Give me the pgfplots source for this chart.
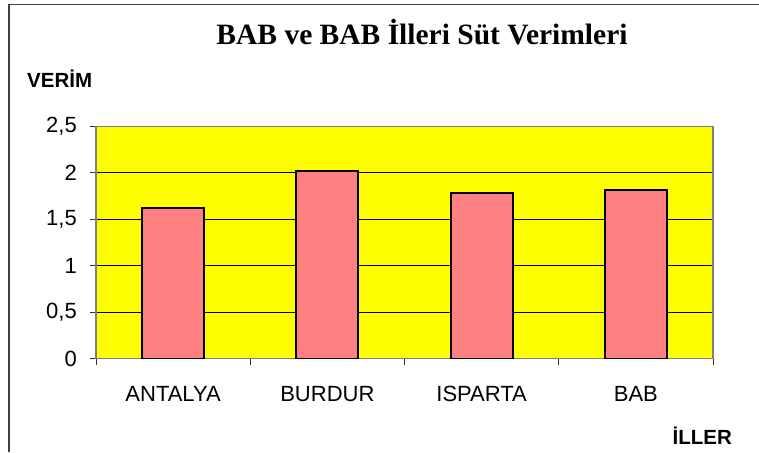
\documentclass[border=0pt]{standalone}
\usepackage{pgfplots}
\pgfplotsset{compat=1.18}
\usepackage{fontspec}
\setmainfont{Liberation Sans}
\newfontfamily\serifbold{Liberation Serif}
\definecolor{plotyellow}{RGB}{255,255,0}
\definecolor{barpink}{RGB}{255,128,128}
\definecolor{framegray}{RGB}{128,128,128}
\begin{document}
\begin{tikzpicture}[x=1pt,y=1pt]
\useasboundingbox (0,0) rectangle (759,452);
\draw[line width=1.5pt, black!75] (9,0) -- (9,447.5) -- (759,447.5);
\begin{axis}[
  at={(96pt,93.3pt)}, anchor=south west,
  scale only axis,
  width=617pt, height=232.4pt,
  xmin=0, xmax=4, ymin=0, ymax=2.5,
  axis background/.style={fill=plotyellow},
  axis line style={draw=framegray, line width=1.2pt},
  ytick={0,0.5,1,1.5,2,2.5},
  yticklabels={0,{0,5},1,{1,5},2,{2,5}},
  xtick={0.5,1.5,2.5,3.5},
  xticklabels={ANTALYA,BURDUR,ISPARTA,BAB},
  minor xtick={0,1,2,3,4},
  tick align=outside,
  tick pos=left,
  major tick length=6pt,
  minor tick length=6pt,
  major x tick style={draw=none},
  minor x tick style={black!80, line width=0.8pt},
  major y tick style={black!80, line width=0.8pt},
  ymajorgrids,
  major grid style={black, line width=0.8pt},
  ticklabel style={font=\fontsize{22}{22}\selectfont, inner sep=0pt},
  xticklabel style={anchor=base, yshift=-37pt},
  yticklabel style={anchor=east, xshift=-13pt},
  /pgf/number format/assume math mode=true,
]
\addplot[ybar, bar width=62pt, bar shift=0pt, fill=barpink, draw=black, line width=2pt]
  coordinates {(0.5,1.626) (1.5,2.021) (2.5,1.784) (3.5,1.812)};
\end{axis}
\node[anchor=base, inner sep=0pt] at (422,407) {\serifbold\bfseries\fontsize{29.5}{29.5}\selectfont BAB ve BAB İlleri Süt Verimleri};
\node[anchor=base west, inner sep=0pt] at (27,364.7) {\bfseries\fontsize{20.5}{20.5}\selectfont VERİM};
\node[anchor=base east, inner sep=0pt] at (732,8) {\bfseries\fontsize{20.5}{20.5}\selectfont İLLER};
\end{tikzpicture}
\end{document}
